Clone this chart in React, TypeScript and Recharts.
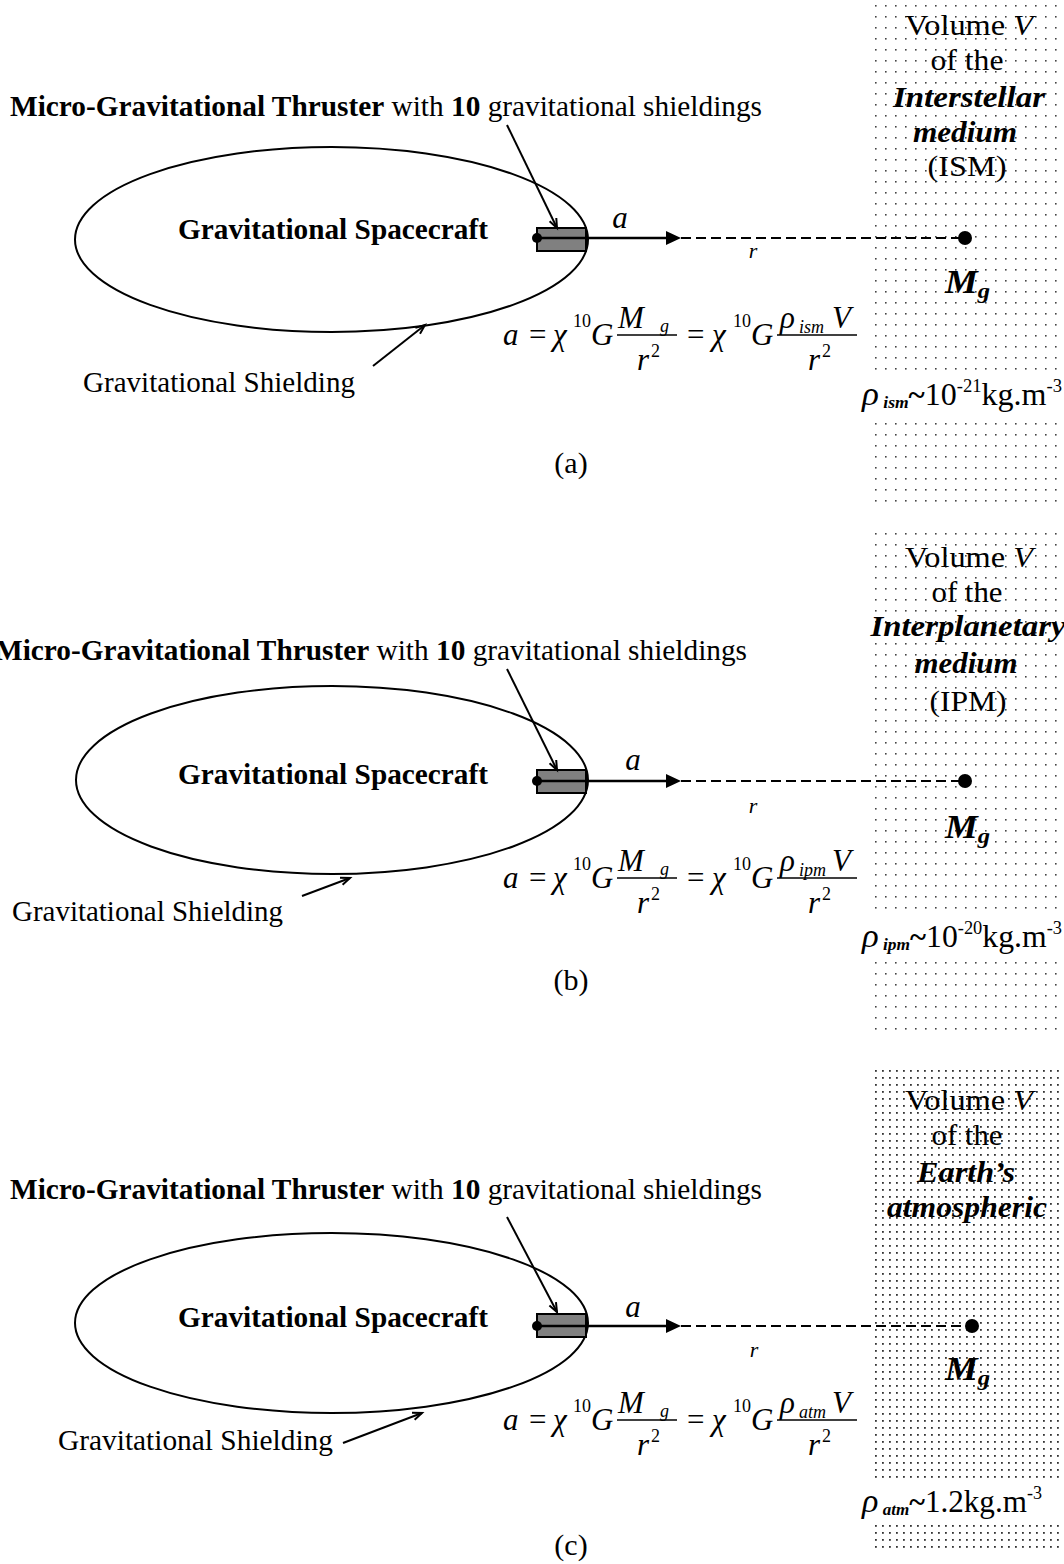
// Diagrama: nave gravitacional con propulsor micro-gravitacional, tres medios (ISM, IPM, atmósfera).
// Se dibuja en un ComposedChart con ejes ocultos cuyo dominio coincide con el lienzo.
import React from 'react'
import {
  ComposedChart,
  XAxis,
  YAxis,
  Scatter,
  ReferenceArea,
  ReferenceLine,
  ReferenceDot,
} from 'recharts'

const W = 1064
const H = 1564

// textos por panel (a), (b), (c)
const panelTags = ['(a)', '(b)', '(c)']
const mediumLines = [
  ['Interstellar', 'medium', '(ISM)'],
  ['Interplanetary', 'medium', '(IPM)'],
  ['Earth’s', 'atmospheric'],
]
const mediumSub = ['ism', 'ipm', 'atm']
const densityMantissa = ['10', '10', '1.2']
const densityExp = ['-21', '-20', '']

// coordenadas del diagrama (unidades de los ejes ocultos)
const frame = [
  { x: 0, y: 0 },
  { x: W, y: H },
]
const ellipseBox = [
  [75, 147, 588, 332],
  [76, 686, 588, 874],
  [75, 1233, 588, 1413],
]
const thrusterBox = [
  [537, 228, 586, 251],
  [537, 770, 586, 793],
  [537, 1314, 586, 1337],
]
const axisY = [238, 781, 1326]
const thrusterTail = [537, 537, 537]
const arrowTip = [681, 681, 681]
const massX = [965, 965, 972]
const volumeBox = [
  [873, 0, 1064, 510],
  [873, 525, 1064, 1030],
  [875, 1068, 1064, 1550],
]
const densityGap = [
  [858, 373, 1064, 414],
  [858, 915, 1064, 956],
  [858, 1482, 1064, 1521],
]
const titleAt = [
  [10, 116],
  [-5, 660],
  [10, 1199],
]
const pointerFrom = [
  [507, 125],
  [507, 669],
  [507, 1217],
]
const pointerTo = [
  [557, 228],
  [557, 770],
  [557, 1312],
]
const spacecraftAt = [
  [178, 239],
  [178, 784],
  [178, 1327],
]
const accelAt = [
  [620, 228],
  [633, 770],
  [633, 1317],
]
const rAt = [
  [753, 258],
  [753, 813],
  [754, 1357],
]
const formulaAt = [
  [503, 345],
  [503, 888],
  [503, 1430],
]
const massLabelAt = [
  [945, 293],
  [945, 838],
  [945, 1380],
]
const densityAt = [
  [862, 405],
  [862, 947],
  [862, 1512],
]
const densityWidth = [200, 200, 180]
const shieldTextAt = [
  [83, 392],
  [12, 921],
  [58, 1450],
]
const shieldTextWidth = [272, 271, 275]
const shieldFrom = [
  [373, 366],
  [302, 896],
  [343, 1443],
]
const shieldTo = [
  [425, 325],
  [350, 878],
  [422, 1413],
]
const tagAt = [
  [571, 473],
  [571, 990],
  [571, 1555],
]
const volumeCenterX = [
  [969, 967, 969, 965, 967],
  [969, 967, 968, 966, 968],
  [969, 967, 966, 967],
]
const volumeLineY = [
  [35, 70, 107, 142, 176],
  [567, 602, 636, 673, 711],
  [1110, 1145, 1182, 1217],
]
const volumeLineWidth = [
  [128, 73, 152, 104, 79],
  [128, 71, 195, 103, 77],
  [128, 71, 98, 160],
]

const serif = 'Liberation Serif, Tinos, Times New Roman, serif'

function openArrow(p: any) {
  const { x1, y1, x2, y2 } = p
  const ang = Math.atan2(y2 - y1, x2 - x1)
  const len = 10
  const a1 = ang + Math.PI - 0.38
  const a2 = ang + Math.PI + 0.38
  return (
    <g stroke="#000" strokeWidth={2} fill="none">
      <line x1={x1} y1={y1} x2={x2} y2={y2} />
      <polyline
        points={`${x2 + len * Math.cos(a1)},${y2 + len * Math.sin(a1)} ${x2},${y2} ${
          x2 + len * Math.cos(a2)
        },${y2 + len * Math.sin(a2)}`}
      />
    </g>
  )
}

function thrustArrow(p: any) {
  const { x1, y1, x2, y2 } = p
  const head = 15
  return (
    <g>
      <line x1={x1} y1={y1} x2={x2 - head} y2={y2} stroke="#000" strokeWidth={2.6} />
      <polygon points={`${x2 - head},${y2 - 7} ${x2},${y2} ${x2 - head},${y2 + 7}`} fill="#000" />
    </g>
  )
}

function ellipseShape(p: any) {
  const { x, y, width, height } = p
  return (
    <ellipse
      cx={x + width / 2}
      cy={y + height / 2}
      rx={width / 2}
      ry={height / 2}
      fill="none"
      stroke="#000"
      strokeWidth={2}
    />
  )
}

function Formula({ cx, cy, sub }: { cx: number; cy: number; sub: string }) {
  const big = 31
  const small = 18
  return (
    <g fontFamily={serif} fill="#000">
      <text x={cx} y={cy} fontSize={big} fontStyle="italic">a</text>
      <text x={cx + 26} y={cy} fontSize={big}>=</text>
      <text x={cx + 50} y={cy} fontSize={big} fontStyle="italic">χ</text>
      <text x={cx + 70} y={cy - 18} fontSize={small}>10</text>
      <text x={cx + 88} y={cy} fontSize={big} fontStyle="italic">G</text>
      <line x1={cx + 114} x2={cx + 174} y1={cy - 10} y2={cy - 10} stroke="#000" strokeWidth={1.4} />
      <text x={cx + 115} y={cy - 17} fontSize={big} fontStyle="italic">M</text>
      <text x={cx + 157} y={cy - 13} fontSize={small} fontStyle="italic">g</text>
      <text x={cx + 134} y={cy + 25} fontSize={big} fontStyle="italic">r</text>
      <text x={cx + 148} y={cy + 12} fontSize={small}>2</text>
      <text x={cx + 184} y={cy} fontSize={big}>=</text>
      <text x={cx + 209} y={cy} fontSize={big} fontStyle="italic">χ</text>
      <text x={cx + 230} y={cy - 18} fontSize={small}>10</text>
      <text x={cx + 248} y={cy} fontSize={big} fontStyle="italic">G</text>
      <line x1={cx + 274} x2={cx + 354} y1={cy - 10} y2={cy - 10} stroke="#000" strokeWidth={1.4} />
      <text x={cx + 277} y={cy - 17} fontSize={big} fontStyle="italic">ρ</text>
      <text x={cx + 296} y={cy - 12} fontSize={small} fontStyle="italic">{sub}</text>
      <text x={cx + 329} y={cy - 17} fontSize={big} fontStyle="italic">V</text>
      <text x={cx + 305} y={cy + 25} fontSize={big} fontStyle="italic">r</text>
      <text x={cx + 319} y={cy + 12} fontSize={small}>2</text>
    </g>
  )
}

export default function App() {
  const panels = [0, 1, 2]
  return (
    <div style={{ position: 'absolute', left: 0, top: 0, width: W, height: H, background: '#fff' }}>
      <svg width={0} height={0} style={{ position: 'absolute' }}>
        <defs>
          <pattern id="dotsSparse" x={875} y={5} width={10} height={11} patternUnits="userSpaceOnUse">
            <rect x={0} y={0} width={1.6} height={1.6} fill="#444" />
          </pattern>
          <pattern id="dotsDense" x={875} y={1070} width={7} height={7} patternUnits="userSpaceOnUse">
            <rect x={0} y={0} width={1.8} height={1.8} fill="#333" />
          </pattern>
        </defs>
      </svg>
      <ComposedChart width={W} height={H} margin={{ top: 0, right: 0, bottom: 0, left: 0 }}>
        <XAxis type="number" dataKey="x" domain={[0, W]} allowDataOverflow hide />
        <YAxis type="number" dataKey="y" domain={[0, H]} allowDataOverflow reversed hide />
        <Scatter data={frame} dataKey="y" isAnimationActive={false} shape={() => <g />} />

        {panels.map((i) => (
          <ReferenceArea
            key={`vol${i}`}
            x1={volumeBox[i][0]}
            y1={volumeBox[i][1]}
            x2={volumeBox[i][2]}
            y2={volumeBox[i][3]}
            fill={i === 2 ? 'url(#dotsDense)' : 'url(#dotsSparse)'}
            fillOpacity={1}
            stroke="none"
            ifOverflow="visible"
          />
        ))}
        {panels.map((i) => (
          <ReferenceArea
            key={`gap${i}`}
            x1={densityGap[i][0]}
            y1={densityGap[i][1]}
            x2={densityGap[i][2]}
            y2={densityGap[i][3]}
            fill="#fff"
            fillOpacity={1}
            stroke="none"
            ifOverflow="visible"
          />
        ))}
        {panels.map((i) => (
          <ReferenceArea
            key={`ell${i}`}
            x1={ellipseBox[i][0]}
            y1={ellipseBox[i][1]}
            x2={ellipseBox[i][2]}
            y2={ellipseBox[i][3]}
            shape={ellipseShape}
            ifOverflow="visible"
          />
        ))}
        {panels.map((i) => (
          <ReferenceArea
            key={`thr${i}`}
            x1={thrusterBox[i][0]}
            y1={thrusterBox[i][1]}
            x2={thrusterBox[i][2]}
            y2={thrusterBox[i][3]}
            fill="#808080"
            fillOpacity={1}
            stroke="#000"
            strokeWidth={2}
            ifOverflow="visible"
          />
        ))}

        {panels.map((i) => (
          <ReferenceLine
            key={`dash${i}`}
            segment={[
              { x: arrowTip[i], y: axisY[i] },
              { x: massX[i], y: axisY[i] },
            ]}
            stroke="#000"
            strokeWidth={2}
            strokeDasharray="10 5"
            ifOverflow="visible"
          />
        ))}
        {panels.map((i) => (
          <ReferenceLine
            key={`thrust${i}`}
            segment={[
              { x: thrusterTail[i], y: axisY[i] },
              { x: arrowTip[i], y: axisY[i] },
            ]}
            shape={thrustArrow}
            ifOverflow="visible"
          />
        ))}
        {panels.map((i) => (
          <ReferenceLine
            key={`ptr${i}`}
            segment={[
              { x: pointerFrom[i][0], y: pointerFrom[i][1] },
              { x: pointerTo[i][0], y: pointerTo[i][1] },
            ]}
            shape={openArrow}
            ifOverflow="visible"
          />
        ))}
        {panels.map((i) => (
          <ReferenceLine
            key={`shd${i}`}
            segment={[
              { x: shieldFrom[i][0], y: shieldFrom[i][1] },
              { x: shieldTo[i][0], y: shieldTo[i][1] },
            ]}
            shape={openArrow}
            ifOverflow="visible"
          />
        ))}

        {panels.map((i) => (
          <ReferenceDot key={`tail${i}`} x={thrusterTail[i]} y={axisY[i]} r={5} fill="#000" stroke="none" ifOverflow="visible" />
        ))}
        {panels.map((i) => (
          <ReferenceDot key={`mass${i}`} x={massX[i]} y={axisY[i]} r={7} fill="#000" stroke="none" ifOverflow="visible" />
        ))}

        {panels.map((i) => (
          <ReferenceDot
            key={`title${i}`}
            x={titleAt[i][0]}
            y={titleAt[i][1]}
            r={0}
            ifOverflow="visible"
            shape={(p: any) => (
              <text x={p.cx} y={p.cy} fontFamily={serif} fontSize={29} textLength={752} lengthAdjust="spacingAndGlyphs">
                <tspan fontWeight="bold">Micro-Gravitational Thruster</tspan>
                <tspan>{' with '}</tspan>
                <tspan fontWeight="bold">10</tspan>
                <tspan>{' gravitational shieldings'}</tspan>
              </text>
            )}
          />
        ))}
        {panels.map((i) => (
          <ReferenceDot
            key={`craft${i}`}
            x={spacecraftAt[i][0]}
            y={spacecraftAt[i][1]}
            r={0}
            ifOverflow="visible"
            shape={(p: any) => (
              <text x={p.cx} y={p.cy} fontFamily={serif} fontSize={29} fontWeight="bold" textLength={310} lengthAdjust="spacingAndGlyphs">
                Gravitational Spacecraft
              </text>
            )}
          />
        ))}
        {panels.map((i) => (
          <ReferenceDot
            key={`acc${i}`}
            x={accelAt[i][0]}
            y={accelAt[i][1]}
            r={0}
            ifOverflow="visible"
            shape={(p: any) => (
              <text x={p.cx} y={p.cy} fontFamily={serif} fontSize={31} fontStyle="italic" textAnchor="middle">
                a
              </text>
            )}
          />
        ))}
        {panels.map((i) => (
          <ReferenceDot
            key={`r${i}`}
            x={rAt[i][0]}
            y={rAt[i][1]}
            r={0}
            ifOverflow="visible"
            shape={(p: any) => (
              <text x={p.cx} y={p.cy} fontFamily={serif} fontSize={22} fontStyle="italic" textAnchor="middle">
                r
              </text>
            )}
          />
        ))}
        {panels.map((i) => (
          <ReferenceDot
            key={`f${i}`}
            x={formulaAt[i][0]}
            y={formulaAt[i][1]}
            r={0}
            ifOverflow="visible"
            shape={(p: any) => <Formula cx={p.cx} cy={p.cy} sub={mediumSub[i]} />}
          />
        ))}
        {panels.map((i) => (
          <ReferenceDot
            key={`mg${i}`}
            x={massLabelAt[i][0]}
            y={massLabelAt[i][1]}
            r={0}
            ifOverflow="visible"
            shape={(p: any) => (
              <text x={p.cx} y={p.cy} fontFamily={serif} fontWeight="bold" fontStyle="italic" textLength={45} lengthAdjust="spacingAndGlyphs">
                <tspan fontSize={33}>M</tspan>
                <tspan fontSize={22} dy={5}>g</tspan>
              </text>
            )}
          />
        ))}
        {panels.map((i) => (
          <ReferenceDot
            key={`rho${i}`}
            x={densityAt[i][0]}
            y={densityAt[i][1]}
            r={0}
            ifOverflow="visible"
            shape={(p: any) => (
              <text
                x={p.cx}
                y={p.cy}
                fontFamily={serif}
                textLength={densityWidth[i]}
                lengthAdjust="spacingAndGlyphs"
              >
                <tspan fontStyle="italic" fontSize={34}>ρ</tspan>
                <tspan fontStyle="italic" fontWeight="bold" fontSize={17} dy={3}>{' ' + mediumSub[i]}</tspan>
                <tspan fontWeight="bold" fontSize={30} dy={-3}>~</tspan>
                <tspan fontSize={31}>{densityMantissa[i]}</tspan>
                {densityExp[i] ? (
                  <tspan fontSize={18} dy={-13}>{densityExp[i]}</tspan>
                ) : null}
                <tspan fontSize={31} dy={densityExp[i] ? 13 : 0}>kg.m</tspan>
                <tspan fontSize={18} dy={-13}>-3</tspan>
              </text>
            )}
          />
        ))}
        {panels.map((i) => (
          <ReferenceDot
            key={`shl${i}`}
            x={shieldTextAt[i][0]}
            y={shieldTextAt[i][1]}
            r={0}
            ifOverflow="visible"
            shape={(p: any) => (
              <text x={p.cx} y={p.cy} fontFamily={serif} fontSize={29} textLength={shieldTextWidth[i]} lengthAdjust="spacingAndGlyphs">
                Gravitational Shielding
              </text>
            )}
          />
        ))}
        {panels.map((i) => (
          <ReferenceDot
            key={`tag${i}`}
            x={tagAt[i][0]}
            y={tagAt[i][1]}
            r={0}
            ifOverflow="visible"
            shape={(p: any) => (
              <text x={p.cx} y={p.cy} fontFamily={serif} fontSize={30} textAnchor="middle">
                {panelTags[i]}
              </text>
            )}
          />
        ))}
        {panels.map((i) =>
          volumeLineY[i].map((ly, j) => (
            <ReferenceDot
              key={`vl${i}-${j}`}
              x={volumeCenterX[i][j]}
              y={ly}
              r={0}
              ifOverflow="visible"
              shape={(p: any) => {
                const common = {
                  x: p.cx,
                  y: p.cy,
                  fontFamily: serif,
                  fontSize: 29,
                  textAnchor: 'middle' as const,
                  textLength: volumeLineWidth[i][j],
                  lengthAdjust: 'spacingAndGlyphs',
                }
                if (j === 0)
                  return (
                    <text {...common}>
                      <tspan>{'Volume '}</tspan>
                      <tspan fontStyle="italic">V</tspan>
                    </text>
                  )
                if (j === 1) return <text {...common}>of the</text>
                const word = mediumLines[i][j - 2]
                const emph = j === 2 || j === 3
                return (
                  <text {...common} fontWeight={emph ? 'bold' : 'normal'} fontStyle={emph ? 'italic' : 'normal'}>
                    {word}
                  </text>
                )
              }}
            />
          )),
        )}
      </ComposedChart>
    </div>
  )
}
